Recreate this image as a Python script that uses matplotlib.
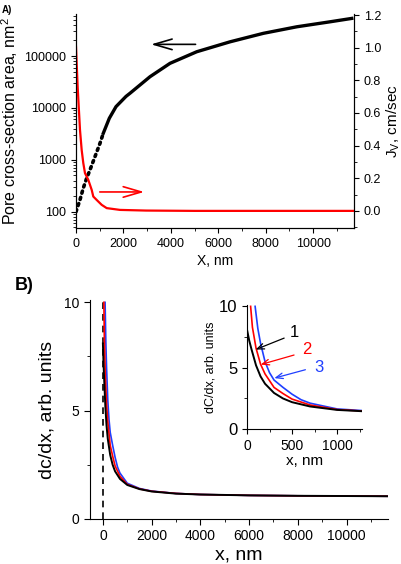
import numpy as np
import matplotlib
matplotlib.use('Agg')
import matplotlib.pyplot as plt
from matplotlib.ticker import MultipleLocator, LogLocator, NullFormatter

plt.rcParams['font.family'] = ['Liberation Sans', 'DejaVu Sans']
plt.rcParams['xtick.direction'] = 'out'
plt.rcParams['ytick.direction'] = 'out'

# panel A: pore cross-section area (left, log) and Jv (right)
area_x = [0, 169, 308, 451, 591, 802, 1013, 1152, 1406, 1688, 2110, 2278, 3122,
          3966, 5092, 6497, 7903, 9310, 10716, 11632]
area_y = [100, 170, 286, 444, 642, 1156, 2090, 3260, 6330, 10600, 16700, 19200, 40000,
          72400, 121000, 188000, 274000, 366000, 457000, 531000]

jv_x = [0, 70, 169, 240, 308, 380, 519, 662, 730, 873, 1084, 1295, 1856, 2953,
        5000, 8000, 11700]
jv_y = [1.006, 0.761, 0.496, 0.373, 0.293, 0.231, 0.190, 0.129, 0.088, 0.067, 0.037,
        0.017, 0.006, 0.002, 0.0, 0.0, 0.0]

# panel B: dc/dx curves 1, 2, 3
c1_x = [0, 25, 50, 100, 150, 200, 300, 400, 500, 700, 1000, 1500, 2000, 3000, 4000,
        6000, 8000, 10000, 11700]
c1_y = [8.1, 7.2, 6.5, 5.2, 4.3, 3.7, 2.95, 2.5, 2.2, 1.85, 1.57, 1.38, 1.27, 1.17,
        1.13, 1.09, 1.07, 1.06, 1.05]
c2_x = [40, 60, 100, 150, 200, 300, 400, 500, 700, 1000, 1500, 2000, 3000, 4000,
        6000, 8000, 10000, 11700]
c2_y = [10.0, 8.3, 6.6, 5.3, 4.5, 3.4, 2.9, 2.45, 1.97, 1.6, 1.39, 1.28, 1.18, 1.13,
        1.09, 1.07, 1.06, 1.05]
c3_x = [90, 120, 150, 200, 250, 300, 400, 500, 600, 700, 1000, 1500, 2000, 3000,
        4000, 6000, 8000, 10000, 11700]
c3_y = [10.0, 8.2, 7.0, 5.5, 4.6, 4.0, 3.4, 2.85, 2.4, 2.12, 1.65, 1.41, 1.29, 1.18,
        1.13, 1.09, 1.07, 1.06, 1.05]

fig = plt.figure(figsize=(4.01, 5.64), dpi=100)

# ---------------- panel A ----------------
ax = fig.add_axes([0.1895, 0.596, 0.6935, 0.379])
ax.set_yscale('log')
ax.plot(area_x[:8], area_y[:8], color='k', lw=2.6, linestyle=(0, (0.6, 1.2)),
        dash_capstyle='round')
ax.plot(area_x[7:], area_y[7:], color='k', lw=2.4)
ax.set_xlim(0, 11730)
ax.set_ylim(49, 643000)
ax.set_yticks([100, 1000, 10000, 100000])
ax.set_yticklabels(['100', '1000', '10000', '100000'])
ax.yaxis.set_minor_locator(LogLocator(base=10, subs=np.arange(2, 10)))
ax.yaxis.set_minor_formatter(NullFormatter())
ax.xaxis.set_major_locator(MultipleLocator(2000))
ax.xaxis.set_minor_locator(MultipleLocator(1000))
ax.tick_params(labelsize=9, length=3.5, width=0.8)
ax.tick_params(which='minor', length=2)
ax.spines['top'].set_visible(False)
ax.set_xlabel('X, nm', fontsize=10, labelpad=3)
ax.set_ylabel('Pore cross-section area, nm$^\\mathregular{2}$', fontsize=11.5, labelpad=3)
ax.annotate('', xy=(3050, 168000), xytext=(5160, 168000),
            arrowprops=dict(arrowstyle='->,head_length=1.3,head_width=0.38', lw=1.2, color='k'))

ax2 = ax.twinx()
ax2.plot(jv_x, jv_y, color='red', lw=1.6)
ax2.set_ylim(-0.104, 1.206)
ax2.set_yticks([0.0, 0.2, 0.4, 0.6, 0.8, 1.0, 1.2])
ax2.set_yticklabels(['0.0', '0.2', '0.4', '0.6', '0.8', '1.0', '1.2'])
ax2.yaxis.set_minor_locator(MultipleLocator(0.1))
ax2.tick_params(labelsize=9, length=3.5, width=0.8)
ax2.tick_params(which='minor', length=2)
ax2.spines['top'].set_visible(False)
ax2.set_ylabel('J$_\\mathregular{V}$, cm/sec', fontsize=11, labelpad=2)
ax2.annotate('', xy=(2995, 0.116), xytext=(886, 0.116),
             arrowprops=dict(arrowstyle='->,head_length=1.3,head_width=0.38', lw=1.2, color='red'))

fig.text(0.005, 0.992, 'A)', fontsize=7, fontweight='bold', va='top')

# ---------------- panel B ----------------
bx = fig.add_axes([0.2244, 0.0798, 0.7432, 0.388])
bx.plot([0, 0], [0, 10], color='k', lw=1.2, linestyle=(0, (4, 3)))
bx.plot(c3_x, c3_y, color='#1f3fff', lw=1.2)
bx.plot(c2_x, c2_y, color='red', lw=1.2)
bx.plot(c1_x, c1_y, color='k', lw=1.4)
bx.set_xlim(-530, 11700)
bx.set_ylim(0, 10.1)
bx.xaxis.set_major_locator(MultipleLocator(2000))
bx.xaxis.set_minor_locator(MultipleLocator(1000))
bx.yaxis.set_major_locator(MultipleLocator(5))
bx.yaxis.set_minor_locator(MultipleLocator(2.5))
bx.tick_params(labelsize=10, length=4, width=0.8)
bx.tick_params(which='minor', length=2.5)
bx.spines['top'].set_visible(False)
bx.spines['right'].set_visible(False)
bx.set_xlabel('x, nm', fontsize=14, labelpad=2)
bx.set_ylabel('dc/dx, arb. units', fontsize=14, labelpad=6)
fig.text(0.037, 0.508, 'B)', fontsize=13, fontweight='bold', va='top')

# inset
ins = fig.add_axes([0.616, 0.239, 0.287, 0.220])
ins.plot(c3_x, c3_y, color='#1f3fff', lw=1.2)
ins.plot(c2_x, c2_y, color='red', lw=1.2)
ins.plot(c1_x, c1_y, color='k', lw=1.4)
ins.set_xlim(0, 1278)
ins.set_ylim(0, 10.1)
ins.xaxis.set_major_locator(MultipleLocator(500))
ins.xaxis.set_minor_locator(MultipleLocator(250))
ins.yaxis.set_major_locator(MultipleLocator(5))
ins.yaxis.set_minor_locator(MultipleLocator(2.5))
ins.tick_params(axis='x', labelsize=10, length=3.5, width=0.8)
ins.tick_params(axis='y', labelsize=12, length=3.5, width=0.8)
ins.tick_params(which='minor', length=2)
ins.spines['top'].set_visible(False)
ins.spines['right'].set_visible(False)
ins.set_xlabel('x, nm', fontsize=11, labelpad=1)
ins.set_ylabel('dC/dx, arb. units', fontsize=9, labelpad=2)

for lab, col, txt, tail, head in [('1', 'k', (478, 7.9), (441, 7.5), (67, 6.4)),
                                  ('2', 'red', (608, 6.5), (552, 6.1), (122, 5.2)),
                                  ('3', '#1f3fff', (744, 5.0), (678, 4.9), (274, 4.1))]:
    ins.text(txt[0], txt[1], lab, color=col, fontsize=12, ha='left', va='center')
    ins.annotate('', xy=head, xytext=tail,
                 arrowprops=dict(arrowstyle='->,head_length=0.5,head_width=0.2', lw=0.9, color=col))

fig.savefig('out.png', dpi=100)
